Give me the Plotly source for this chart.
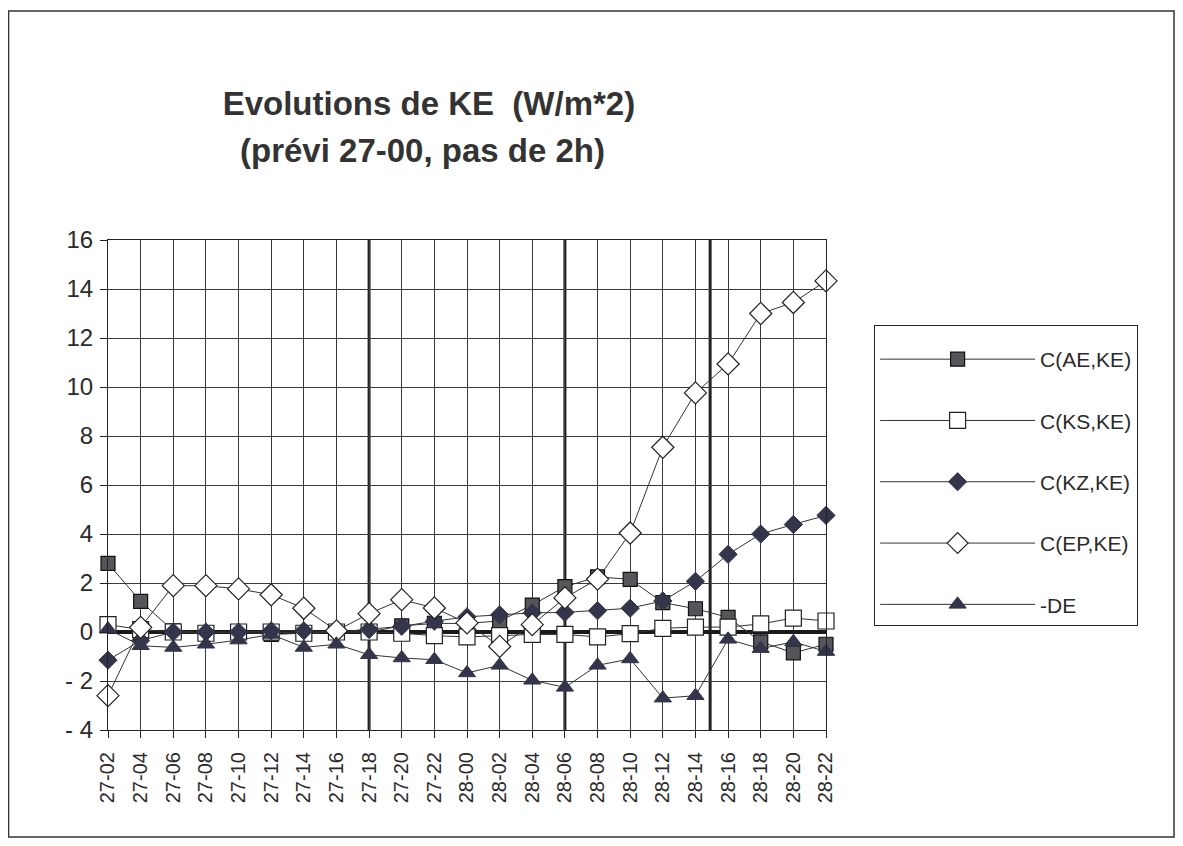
import plotly.graph_objects as go

categories = ["27-02", "27-04", "27-06", "27-08", "27-10", "27-12", "27-14", "27-16",
              "27-18", "27-20", "27-22", "28-00", "28-02", "28-04", "28-06", "28-08",
              "28-10", "28-12", "28-14", "28-16", "28-18", "28-20", "28-22"]

c_ae_ke = [2.8, 1.25, 0.05, -0.05, 0.0, -0.1, -0.05, 0.0, 0.0, 0.25, 0.35, 0.35,
           0.45, 1.1, 1.85, 2.25, 2.15, 1.2, 0.95, 0.6, -0.4, -0.85, -0.5]
c_ks_ke = [0.3, 0.1, 0.0, -0.05, 0.0, 0.0, -0.05, 0.0, 0.0, -0.05, -0.15, -0.2,
           -0.15, -0.1, -0.1, -0.2, -0.07, 0.15, 0.2, 0.2, 0.33, 0.57, 0.45]
c_kz_ke = [-1.15, -0.35, 0.0, 0.0, 0.0, 0.05, 0.05, 0.0, 0.1, 0.23, 0.44, 0.62,
           0.7, 0.78, 0.8, 0.87, 0.97, 1.27, 2.07, 3.17, 4.0, 4.39, 4.76]
c_ep_ke = [-2.6, 0.19, 1.89, 1.89, 1.76, 1.52, 0.97, 0.05, 0.75, 1.32, 0.98, 0.37,
           -0.59, 0.3, 1.39, 2.16, 4.04, 7.54, 9.76, 10.94, 13.0, 13.45, 14.33]
minus_de = [0.12, -0.56, -0.63, -0.5, -0.33, -0.1, -0.63, -0.5, -0.93, -1.06, -1.13,
            -1.67, -1.36, -1.97, -2.26, -1.36, -1.1, -2.7, -2.6, -0.3, -0.68, -0.4, -0.8]

y_ticks = [16, 14, 12, 10, 8, 6, 4, 2, 0, -2, -4]
separators = [8, 14, 18.45]

FONT = "Liberation Sans, Arial, sans-serif"
INK = "#2b2b2b"
DARK = "#34344a"

series = [
    ("C(AE,KE)", c_ae_ke, dict(symbol="square", size=14, color="#55555a",
                               line=dict(color="#111", width=1.2))),
    ("C(KS,KE)", c_ks_ke, dict(symbol="square", size=16, color="white",
                               line=dict(color="#222", width=1.2))),
    ("C(KZ,KE)", c_kz_ke, dict(symbol="diamond", size=14, color=DARK,
                               line=dict(color=DARK, width=1))),
    ("C(EP,KE)", c_ep_ke, dict(symbol="diamond", size=17, color="white",
                               line=dict(color="#222", width=1.2))),
    ("-DE", minus_de, dict(symbol="triangle-up", size=15, color=DARK,
                           line=dict(color=DARK, width=1))),
]

fig = go.Figure()
for name, vals, mk in series:
    fig.add_trace(go.Scatter(
        x=categories, y=vals, name=name, mode="lines+markers",
        line=dict(color="#333", width=1), marker=mk, cliponaxis=False,
        legendgroup=name,
    ))

for s in separators:
    fig.add_shape(type="line", xref="x", yref="paper", x0=s, x1=s, y0=0, y1=1,
                  line=dict(color="#222", width=3), layer="between")

# page frame
fig.add_shape(type="rect", xref="paper", yref="paper",
              x0=-0.1385, x1=1.4847, y0=-0.2184, y1=1.4673,
              line=dict(color="#333", width=1.5), layer="below")

W, H = 1167, 830
fig.update_layout(
    width=W, height=H,
    margin=dict(l=100, r=W - 100 - 718, t=232, b=H - 232 - 490),
    paper_bgcolor="white", plot_bgcolor="white",
    font=dict(family=FONT, color=INK),
    title=dict(text="<b>Evolutions de KE  (W/m*2)</b>", xref="paper", x=0.447,
               xanchor="center", yref="container", y=1 - 95 / H, yanchor="middle",
               font=dict(size=33, family=FONT, color="#333")),
    showlegend=True,
    legend=dict(x=1.067, y=0.8265, xanchor="left", yanchor="top",
                bordercolor="#222", borderwidth=1, bgcolor="white",
                font=dict(size=21, family=FONT, color=INK),
                title=dict(text="&nbsp;", font=dict(size=10)),
                traceorder="grouped", tracegroupgap=31, itemwidth=155,
                entrywidth=265),
)
fig.add_annotation(text="<b>(prévi 27-00, pas de 2h)</b>", xref="paper", yref="paper",
                   x=0.4387, y=(730 - 150) / 490, xanchor="center", yanchor="middle",
                   showarrow=False, font=dict(size=33, family=FONT, color="#333"))

fig.update_xaxes(
    type="category", range=[0, 22], tickangle=-90,
    showgrid=True, gridcolor="#3a3a3a", gridwidth=1.2,
    showline=True, linecolor="#222", linewidth=1.2, mirror=True,
    ticks="outside", ticklen=7, tickcolor="#222", ticklabelstandoff=6,
    tickfont=dict(size=20, family=FONT, color=INK),
)
fig.update_yaxes(
    range=[-4, 16], tickvals=y_ticks, ticktext=[str(v).replace("-", "- ") for v in y_ticks],
    showgrid=True, gridcolor="#3a3a3a", gridwidth=1.2,
    zeroline=True, zerolinecolor="#1a1a1a", zerolinewidth=3.5,
    showline=True, linecolor="#222", linewidth=1.2, mirror=True,
    ticks="outside", ticklen=7, tickcolor="#222", ticklabelstandoff=2,
    tickfont=dict(size=24, family=FONT, color=INK),
)

fig.write_html("out.html")
